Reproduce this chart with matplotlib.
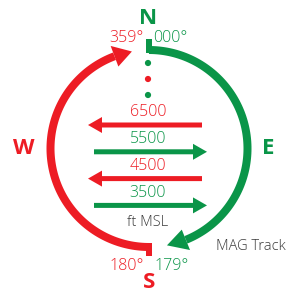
import numpy as np
import matplotlib
matplotlib.use("Agg")
import matplotlib.pyplot as plt
from matplotlib.patches import Polygon

# data
altitudes = ["6500", "5500", "4500", "3500"]
directions = ["W", "E", "W", "E"]
compass = ["N", "E", "S", "W"]
top_headings = ["359°", "000°"]
bottom_headings = ["180°", "179°"]
unit_label = "ft MSL"
track_label = "MAG Track"

RED = "#ED1C24"
GREEN = "#0A9548"
GRAY = "#3A3A3A"
plt.rcParams["font.family"] = ["Open Sans", "DejaVu Sans"]

fig = plt.figure(figsize=(2.94, 2.93), dpi=100)
ax = fig.add_axes([0, 0, 1, 1])
ax.set_xlim(0, 294)
ax.set_ylim(293, 0)
ax.axis("off")

cx, cy, R = 149, 148.5, 98.5
lw = 8 * 0.72


def pt(t, r=R):
    t = np.radians(t)
    return cx + r * np.cos(t), cy - r * np.sin(t)


def curved_arrow(t0, t1, tip, color):
    t = np.linspace(t0, t1, 120)
    x, y = pt(t)
    ax.plot(x, y, color=color, lw=lw, solid_capstyle="butt")
    # arrow head
    p_out = pt(t1, R + 11)
    p_in = pt(t1, R - 11)
    p_tip = pt(tip)
    ax.add_patch(Polygon([p_out, p_tip, p_in], closed=True, color=color, lw=0))


# green arc: top -> east -> bottom
curved_arrow(90, -68, -79.5, GREEN)
# red arc: bottom -> west -> top
curved_arrow(270, 110.5, 100, RED)

# end ticks
ax.plot([149, 149], [39, 53], color=GREEN, lw=6 * 0.72, solid_capstyle="butt")
ax.plot([149, 149], [243, 256], color=RED, lw=6 * 0.72, solid_capstyle="butt")

# dots
ax.scatter([148] * 3, [63, 79, 95], s=20, c=[GREEN, RED, GREEN], linewidths=0, zorder=3)

# altitude arrows
y0, dy = 125, 26.8
for i, (alt, d) in enumerate(zip(altitudes, directions)):
    y = y0 + i * dy
    col = RED if d == "W" else GREEN
    if d == "W":
        ax.arrow(202, y, -114, 0, width=5, head_width=16, head_length=14,
                 length_includes_head=True, color=col, lw=0)
    else:
        ax.arrow(94, y, 113, 0, width=5, head_width=16, head_length=14,
                 length_includes_head=True, color=col, lw=0)
    ax.text(148, y - 12.5, alt, color=col, fontsize=11.5, fontweight="light",
            ha="center", va="center")

ax.text(148, 223, unit_label, color=GRAY, fontsize=10.5, fontweight="light", ha="center", va="center")
ax.text(251, 247, track_label, color=GRAY, fontsize=10.5, fontweight="light", ha="center", va="center")

# compass letters
pos = {"N": (148, 18, GREEN), "E": (268, 149, GREEN), "S": (149, 283, RED), "W": (24, 149, RED)}
for c in compass:
    x, y, col = pos[c]
    ax.text(x, y, c, color=col, fontsize=16, fontweight="bold", ha="center", va="center")

for txt, x, y, col, ha in [(top_headings[0], 144, 38, RED, "right"),
                           (top_headings[1], 153, 38, GREEN, "left"),
                           (bottom_headings[0], 144, 266, RED, "right"),
                           (bottom_headings[1], 155, 266, GREEN, "left")]:
    ax.text(x, y, txt, color=col, fontsize=11.5, fontweight="light", ha=ha, va="center")

fig.savefig("out.png", dpi=100)
